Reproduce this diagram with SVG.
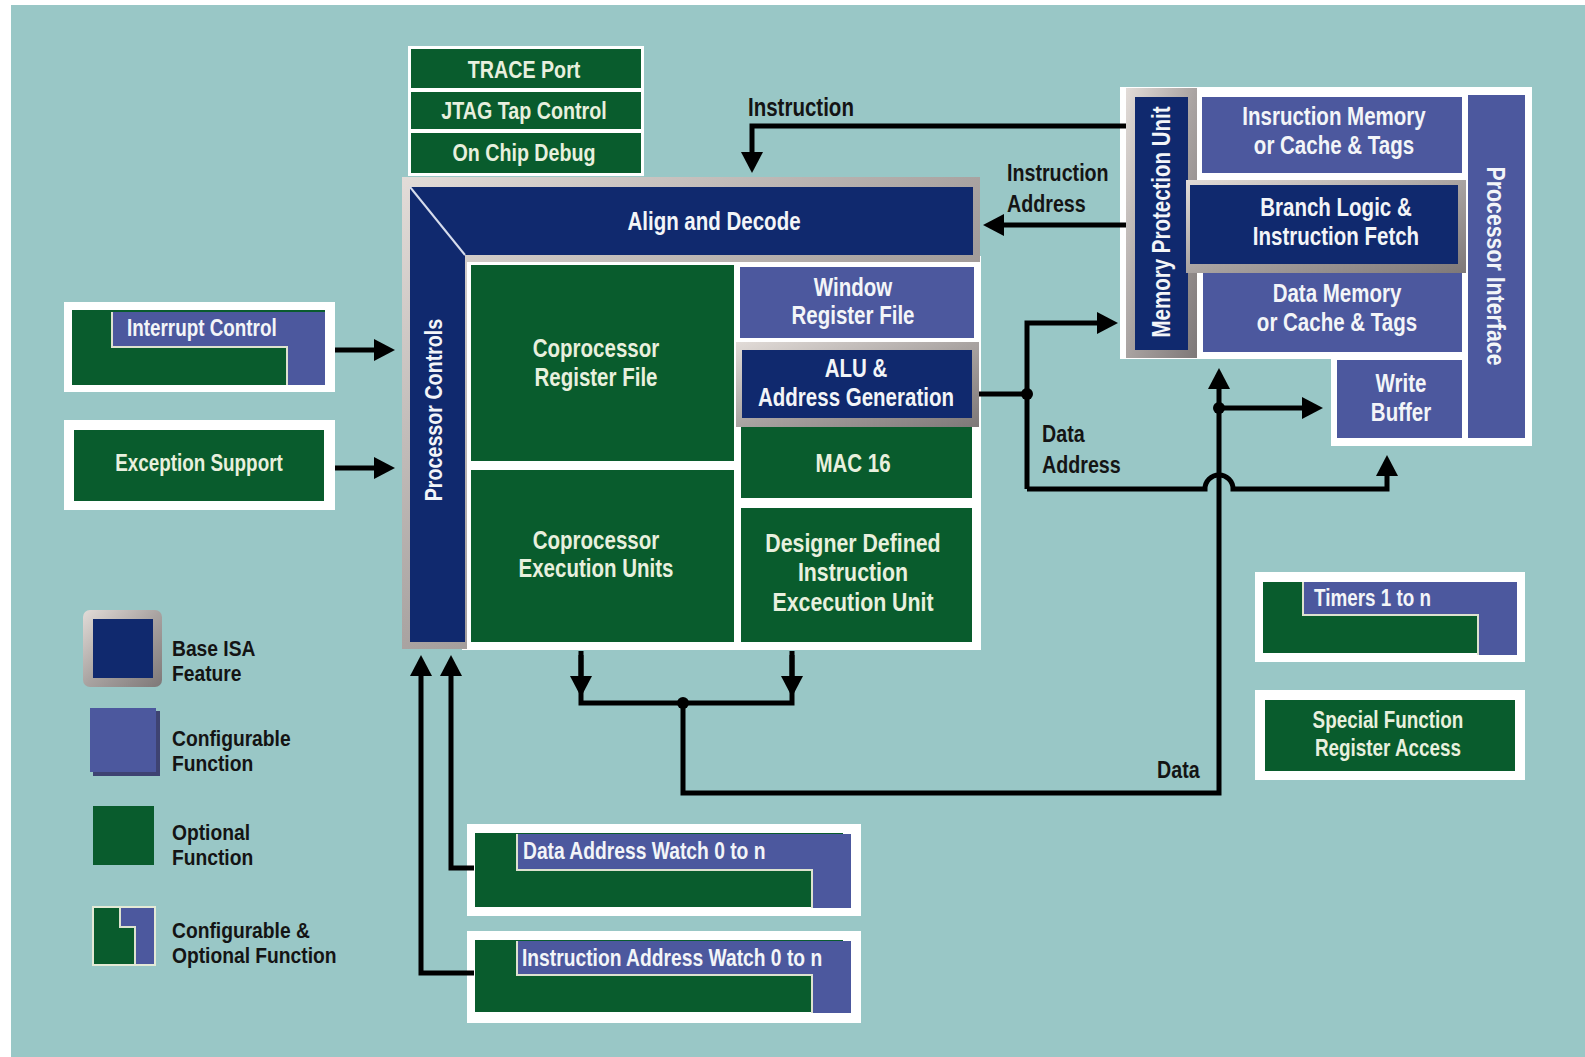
<svg xmlns="http://www.w3.org/2000/svg" width="1585" height="1057" viewBox="0 0 1585 1057">
  <defs>
    <style>
      text { font-family: 'Liberation Sans', Arial, sans-serif; font-weight: bold; font-size: 24px;
             transform-box: fill-box; transform-origin: left center; transform: scaleX(0.82); }
      .c { text-anchor: middle; transform-origin: center; }
      .big { font-size: 25px; }
      .sm { font-size: 23px; }
      .wl { font-size: 23.5px; }
      .lg { font-size: 22px; transform: scaleX(0.875); }
      .pi { font-size: 26px; }
      .w { fill: #F3F5F8; }
      .wg { fill: #E8F0DE; }
      .d { fill: #141414; }
      .navy { fill: #10296E; }
      .cfg { fill: #4C589E; }
      .opt { fill: #095C2D; }
      .pad { fill: #FFFFFF; }
      .bevel { fill: url(#bev); }
      .edge { fill: none; stroke: #DDE2CF; stroke-width: 2; }
      .wire { fill: none; stroke: #000; stroke-width: 5; }
      .arr { marker-end: url(#ah); }
    </style>
    <linearGradient id="bev" x1="0" y1="0" x2="1" y2="1">
      <stop offset="0" stop-color="#E2DCD8"/>
      <stop offset="0.5" stop-color="#A9A3A1"/>
      <stop offset="1" stop-color="#7E7878"/>
    </linearGradient>
    <marker id="ah" markerUnits="userSpaceOnUse" viewBox="0 0 22 22" markerWidth="22" markerHeight="22" refX="1" refY="11" orient="auto">
      <path d="M0,0 L21,11 L0,22 Z" fill="#000"/>
    </marker>
  </defs>

  <!-- page -->
  <rect x="0" y="0" width="1585" height="1057" fill="#FFFFFF"/>
  <rect x="11" y="5" width="1574" height="1052" fill="#99C7C6"/>

  <!-- debug stack -->
  <g id="debug-stack">
    <rect class="pad" x="408" y="46" width="236" height="130"/>
    <g id="trace-port">
      <rect class="opt" x="411" y="49" width="230" height="39"/>
      <text class="wg c" x="524" y="78">TRACE Port</text>
    </g>
    <g id="jtag">
      <rect class="opt" x="411" y="92" width="230" height="37"/>
      <text class="wg c" x="524" y="119">JTAG Tap Control</text>
    </g>
    <g id="on-chip-debug">
      <rect class="opt" x="411" y="133" width="230" height="40"/>
      <text class="wg c" x="524" y="161">On Chip Debug</text>
    </g>
  </g>

  <!-- core: white panel behind execution units -->
  <rect class="pad" x="462" y="256" width="519" height="394"/>

  <!-- base frame: Processor Controls + Align and Decode -->
  <g id="core-frame">
    <path class="bevel" d="M402,177 H980 V262 H467 V649 H402 Z"/>
    <path class="navy" d="M410,187 H973 V255 H465 V642 H410 Z"/>
    <line x1="410" y1="187" x2="465" y2="255" stroke="#D6DCEC" stroke-width="2"/>
  </g>
  <g id="align-decode">
    <text class="w c big" x="714" y="230">Align and Decode</text>
  </g>
  <g id="processor-controls" transform="translate(434,410) rotate(-90)">
    <text class="w c" x="0" y="8">Processor Controls</text>
  </g>

  <g id="coproc-regfile">
    <rect class="opt" x="471" y="265" width="263" height="196"/>
    <text class="wg c big" x="596" y="357">Coprocessor</text>
    <text class="wg c big" x="596" y="386">Register File</text>
  </g>
  <g id="coproc-exec">
    <rect class="opt" x="471" y="470" width="263" height="172"/>
    <text class="wg c big" x="596" y="549">Coprocessor</text>
    <text class="wg c big" x="596" y="577">Execution Units</text>
  </g>
  <g id="window-regfile">
    <rect class="cfg" x="740" y="267" width="234" height="71"/>
    <text class="w c big" x="853" y="296">Window</text>
    <text class="w c big" x="853" y="324">Register File</text>
  </g>
  <g id="alu">
    <rect class="bevel" x="736" y="342" width="243" height="85"/>
    <rect class="navy" x="742" y="350" width="230" height="68"/>
    <text class="w c big" x="856" y="377">ALU &amp;</text>
    <text class="w c big" x="856" y="406">Address Generation</text>
  </g>
  <g id="mac16">
    <rect class="opt" x="741" y="427" width="231" height="71"/>
    <text class="wg c big" x="853" y="472">MAC 16</text>
  </g>
  <g id="designer-defined">
    <rect class="opt" x="741" y="508" width="231" height="134"/>
    <text class="wg c big" x="853" y="552" style="font-size:26px">Designer Defined</text>
    <text class="wg c big" x="853" y="581" style="font-size:26px">Instruction</text>
    <text class="wg c big" x="853" y="611" style="font-size:26px">Excecution Unit</text>
  </g>

  <!-- left side inputs -->
  <g id="interrupt-control">
    <rect class="pad" x="64" y="302" width="271" height="90"/>
    <rect class="opt" x="72" y="310" width="253" height="75"/>
    <path class="cfg" d="M112,312 H325 V385 H287 V347 H112 Z"/>
    <path class="edge" d="M112,312 V347 H287 V385"/>
    <text class="w sm" x="127" y="336">Interrupt Control</text>
  </g>
  <g id="exception-support">
    <rect class="pad" x="64" y="420" width="271" height="90"/>
    <rect class="opt" x="74" y="430" width="250" height="71"/>
    <text class="wg c sm" x="199" y="471">Exception Support</text>
  </g>

  <!-- legend -->
  <g id="legend-base">
    <rect class="bevel" x="83" y="610" width="79" height="77" rx="7"/>
    <rect class="navy" x="93" y="619" width="60" height="59"/>
    <text class="d lg" x="172" y="656">Base ISA</text>
    <text class="d lg" x="172" y="681">Feature</text>
  </g>
  <g id="legend-configurable">
    <rect x="93" y="711" width="67" height="65" fill="#3E4372"/>
    <rect class="cfg" x="90" y="708" width="66" height="64"/>
    <text class="d lg" x="172" y="746">Configurable</text>
    <text class="d lg" x="172" y="771">Function</text>
  </g>
  <g id="legend-optional">
    <rect class="opt" x="93" y="806" width="61" height="59"/>
    <text class="d lg" x="172" y="840">Optional</text>
    <text class="d lg" x="172" y="865">Function</text>
  </g>
  <g id="legend-both">
    <rect class="opt" x="93" y="907" width="62" height="58" stroke="#E4EAD6" stroke-width="2"/>
    <path class="cfg" d="M120,908 H154 V964 H135 V927 H120 Z"/>
    <path class="edge" d="M120,908 V927 H135 V964"/>
    <text class="d lg" x="172" y="938">Configurable &amp;</text>
    <text class="d lg" x="172" y="963">Optional Function</text>
  </g>

  <!-- watch units -->
  <g id="data-address-watch">
    <rect class="pad" x="467" y="824" width="394" height="92"/>
    <rect class="opt" x="475" y="833" width="368" height="74"/>
    <path class="cfg" d="M517,834 H851 V908 H812 V870 H517 Z"/>
    <path class="edge" d="M517,834 V870 H812 V908"/>
    <text class="w wl" x="523" y="859">Data Address Watch 0 to n</text>
  </g>
  <g id="instruction-address-watch">
    <rect class="pad" x="467" y="931" width="394" height="92"/>
    <rect class="opt" x="475" y="940" width="368" height="72"/>
    <path class="cfg" d="M517,941 H851 V1013 H812 V975 H517 Z"/>
    <path class="edge" d="M517,941 V975 H812 V1013"/>
    <text class="w wl" x="522" y="966">Instruction Address Watch 0 to n</text>
  </g>

  <!-- memory side -->
  <g id="memory-block">
    <path class="pad" d="M1120,87 H1532 V446 H1331 V359 H1120 Z"/>
  </g>
  <g id="mpu">
    <rect class="bevel" x="1126" y="88" width="71" height="270"/>
    <rect class="navy" x="1135" y="97" width="53" height="253"/>
    <g transform="translate(1161,222) rotate(-90)">
      <text class="w c big" x="0" y="9">Memory Protection Unit</text>
    </g>
  </g>
  <g id="instruction-memory">
    <rect class="cfg" x="1202" y="97" width="260" height="76"/>
    <text class="w c big" x="1334" y="125">Insruction Memory</text>
    <text class="w c big" x="1334" y="154">or Cache &amp; Tags</text>
  </g>
  <g id="branch-logic">
    <rect class="bevel" x="1186" y="180" width="280" height="93"/>
    <rect class="navy" x="1190" y="185" width="268" height="79"/>
    <text class="w c big" x="1336" y="216">Branch Logic &amp;</text>
    <text class="w c big" x="1336" y="245">Instruction Fetch</text>
  </g>
  <g id="data-memory">
    <rect class="cfg" x="1203" y="273" width="259" height="79"/>
    <text class="w c big" x="1337" y="302">Data Memory</text>
    <text class="w c big" x="1337" y="331">or Cache &amp; Tags</text>
  </g>
  <g id="write-buffer">
    <rect class="cfg" x="1337" y="360" width="125" height="78"/>
    <text class="w c big" x="1401" y="392">Write</text>
    <text class="w c big" x="1401" y="421">Buffer</text>
  </g>
  <g id="processor-interface">
    <rect class="cfg" x="1468" y="95" width="57" height="343"/>
    <g transform="translate(1496,266) rotate(90)">
      <text class="w c pi" x="0" y="9">Processor Interface</text>
    </g>
  </g>

  <!-- peripherals -->
  <g id="timers">
    <rect class="pad" x="1255" y="572" width="270" height="90"/>
    <rect class="opt" x="1263" y="582" width="250" height="71"/>
    <path class="cfg" d="M1303,582 H1517 V655 H1478 V615 H1303 Z"/>
    <path class="edge" d="M1303,582 V615 H1478 V655"/>
    <text class="w sm" x="1314" y="606">Timers 1 to n</text>
  </g>
  <g id="special-function">
    <rect class="pad" x="1255" y="690" width="270" height="90"/>
    <rect class="opt" x="1265" y="700" width="250" height="71"/>
    <text class="wg c sm" x="1388" y="728">Special Function</text>
    <text class="wg c sm" x="1388" y="756">Register Access</text>
  </g>

  <!-- connectors -->
  <g id="connectors">
    <path class="wire arr" d="M1126,126 H752 V153"/>
    <path class="wire arr" d="M1126,225 H1003"/>
    <path class="wire arr" d="M335,350 H375"/>
    <path class="wire arr" d="M335,468 H375"/>
    <path class="wire" d="M979,394 H1027"/>
    <path class="wire arr" d="M1027,489 V323 H1098"/>
    <path class="wire arr" d="M1027,489 H1205 A14,14 0 0 1 1233,489 H1387 V475"/>
    <path class="wire" d="M581,651 V703 H792 V651"/>
    <path class="wire arr" d="M581,655 V677"/>
    <path class="wire arr" d="M792,655 V677"/>
    <path class="wire arr" d="M683,703 V793 H1219 V388"/>
    <path class="wire arr" d="M1219,408 H1303"/>
    <path class="wire arr" d="M474,973 H421 V675"/>
    <path class="wire arr" d="M474,868 H451 V675"/>
    <circle cx="1027" cy="394" r="6"/>
    <circle cx="683" cy="703" r="6"/>
    <circle cx="1219" cy="408" r="6"/>
    <text class="d big" x="748" y="116">Instruction</text>
    <text class="d" x="1007" y="181">Instruction</text>
    <text class="d" x="1007" y="212">Address</text>
    <text class="d" x="1042" y="442">Data</text>
    <text class="d" x="1042" y="473">Address</text>
    <text class="d" x="1157" y="778">Data</text>
  </g>
</svg>
